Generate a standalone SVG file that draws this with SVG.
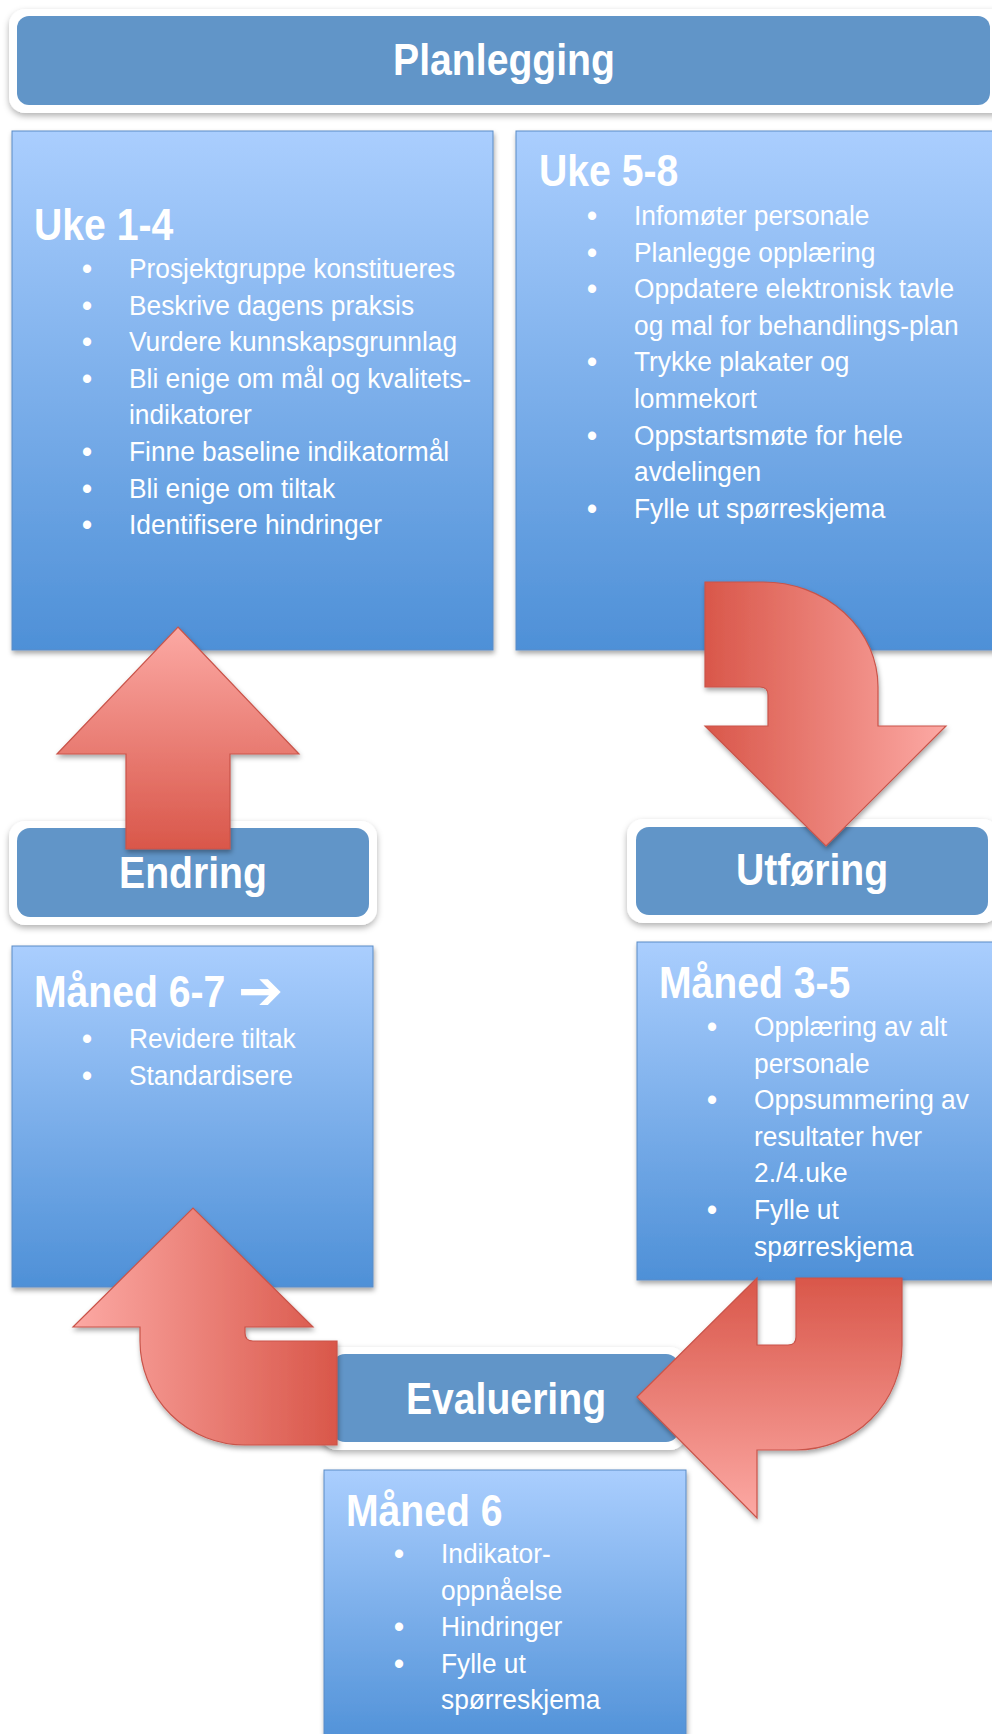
<svg xmlns="http://www.w3.org/2000/svg" width="992" height="1734" viewBox="0 0 992 1734">
<defs>
<style>
.box{fill:url(#boxg);stroke:#5a8cc6;stroke-width:1;filter:url(#sh)}
.outer{fill:#ffffff;filter:url(#sh2)}
.band{fill:#6195c8}
.arrow{stroke:#c9544a;stroke-width:1.2;filter:url(#sh)}
.hd{font-family:"Liberation Sans",Arial,sans-serif;font-weight:bold;font-size:45px;fill:#ffffff}
.bt{font-family:"Liberation Sans",Arial,sans-serif;font-weight:bold;font-size:45px;fill:#ffffff;text-anchor:middle}
.tx{font-family:"Liberation Sans",Arial,sans-serif;font-size:28px;fill:#ffffff}
.bu{font-family:"Liberation Sans",Arial,sans-serif;font-size:32px;fill:#ffffff;text-anchor:middle}
.ar{font-family:"DejaVu Sans",sans-serif;font-weight:bold;font-size:54px;fill:#ffffff}
</style>
<linearGradient id="boxg" x1="0" y1="0" x2="0" y2="1">
<stop offset="0" stop-color="#aacefe"/>
<stop offset="1" stop-color="#4e90d7"/>
</linearGradient>
<linearGradient id="gLR" x1="0" y1="0" x2="1" y2="0">
<stop offset="0" stop-color="#d9574a"/>
<stop offset="1" stop-color="#fca9a4"/>
</linearGradient>
<linearGradient id="gRL" x1="1" y1="0" x2="0" y2="0">
<stop offset="0" stop-color="#d9574a"/>
<stop offset="1" stop-color="#fca9a4"/>
</linearGradient>
<linearGradient id="gBT" x1="0" y1="1" x2="0" y2="0">
<stop offset="0" stop-color="#d9574a"/>
<stop offset="1" stop-color="#fca9a4"/>
</linearGradient>
<linearGradient id="gTB" x1="0" y1="0" x2="0" y2="1">
<stop offset="0" stop-color="#d9574a"/>
<stop offset="1" stop-color="#fca9a4"/>
</linearGradient>
<filter id="sh" x="-10%" y="-10%" width="125%" height="125%">
<feDropShadow dx="1" dy="3" stdDeviation="2.5" flood-color="#000" flood-opacity="0.35"/>
</filter>
<filter id="sh2" x="-10%" y="-20%" width="125%" height="150%">
<feDropShadow dx="0" dy="3" stdDeviation="3" flood-color="#000" flood-opacity="0.3"/>
</filter>
</defs>
<rect width="992" height="1734" fill="#ffffff"/>

<g id="planlegging">
<rect class="outer" x="9" y="9" width="1000" height="104" rx="16"/>
<rect class="band" x="17" y="16" width="973" height="89" rx="12"/>
<text class="bt" transform="translate(504,75) scale(0.87,1)">Planlegging</text>
</g>

<g id="uke1-4">
<rect class="box" x="12" y="131" width="481" height="519"/>
<text class="hd" transform="translate(34,240) scale(0.87,1)">Uke 1-4</text>
<g transform="translate(129,0) scale(0.94,1)">
<text class="bu" x="-44.7" y="279">•</text><text class="tx" x="0" y="278">Prosjektgruppe konstitueres</text>
<text class="bu" x="-44.7" y="315.6">•</text><text class="tx" x="0" y="314.6">Beskrive dagens praksis</text>
<text class="bu" x="-44.7" y="352.2">•</text><text class="tx" x="0" y="351.2">Vurdere kunnskapsgrunnlag</text>
<text class="bu" x="-44.7" y="388.8">•</text><text class="tx" x="0" y="387.8">Bli enige om mål og kvalitets-</text>
<text class="tx" x="0" y="424.4">indikatorer</text>
<text class="bu" x="-44.7" y="462">•</text><text class="tx" x="0" y="461">Finne baseline indikatormål</text>
<text class="bu" x="-44.7" y="498.6">•</text><text class="tx" x="0" y="497.6">Bli enige om tiltak</text>
<text class="bu" x="-44.7" y="535.2">•</text><text class="tx" x="0" y="534.2">Identifisere hindringer</text>
</g>
</g>

<g id="uke5-8">
<rect class="box" x="516" y="131" width="490" height="519"/>
<text class="hd" transform="translate(539,186) scale(0.87,1)">Uke 5-8</text>
<g transform="translate(634,0) scale(0.94,1)">
<text class="bu" x="-44.7" y="226">•</text><text class="tx" x="0" y="225">Infomøter personale</text>
<text class="bu" x="-44.7" y="262.6">•</text><text class="tx" x="0" y="261.6">Planlegge opplæring</text>
<text class="bu" x="-44.7" y="299.2">•</text><text class="tx" x="0" y="298.2">Oppdatere elektronisk tavle</text>
<text class="tx" x="0" y="334.8">og mal for behandlings-plan</text>
<text class="bu" x="-44.7" y="372.4">•</text><text class="tx" x="0" y="371.4">Trykke plakater og</text>
<text class="tx" x="0" y="408">lommekort</text>
<text class="bu" x="-44.7" y="445.6">•</text><text class="tx" x="0" y="444.6">Oppstartsmøte for hele</text>
<text class="tx" x="0" y="481.2">avdelingen</text>
<text class="bu" x="-44.7" y="518.8">•</text><text class="tx" x="0" y="517.8">Fylle ut spørreskjema</text>
</g>
</g>

<g id="endring">
<rect class="outer" x="9" y="821" width="368" height="104" rx="16"/>
<rect class="band" x="17" y="828" width="352" height="89" rx="13"/>
<text class="bt" transform="translate(193,888) scale(0.87,1)">Endring</text>
</g>

<g id="utforing">
<rect class="outer" x="627" y="819" width="372" height="104" rx="16"/>
<rect class="band" x="636" y="827" width="352" height="88" rx="13"/>
<text class="bt" transform="translate(812,885) scale(0.87,1)">Utføring</text>
</g>

<g id="maned6-7">
<rect class="box" x="12" y="946" width="361" height="341"/>
<text class="hd" transform="translate(34,1007) scale(0.87,1)">Måned 6-7</text>
<text class="ar" x="238" y="1009">➔</text>
<g transform="translate(129,0) scale(0.94,1)">
<text class="bu" x="-44.7" y="1049">•</text><text class="tx" x="0" y="1048">Revidere tiltak</text>
<text class="bu" x="-44.7" y="1085.6">•</text><text class="tx" x="0" y="1084.6">Standardisere</text>
</g>
</g>

<g id="maned3-5">
<rect class="box" x="637" y="942" width="370" height="338"/>
<text class="hd" transform="translate(659,998) scale(0.87,1)">Måned 3-5</text>
<g transform="translate(754,0) scale(0.94,1)">
<text class="bu" x="-44.7" y="1037">•</text><text class="tx" x="0" y="1036">Opplæring av alt</text>
<text class="tx" x="0" y="1072.6">personale</text>
<text class="bu" x="-44.7" y="1110.2">•</text><text class="tx" x="0" y="1109.2">Oppsummering av</text>
<text class="tx" x="0" y="1145.8">resultater hver</text>
<text class="tx" x="0" y="1182.4">2./4.uke</text>
<text class="bu" x="-44.7" y="1220">•</text><text class="tx" x="0" y="1219">Fylle ut</text>
<text class="tx" x="0" y="1255.6">spørreskjema</text>
</g>
</g>

<g id="evaluering">
<rect class="outer" x="321" y="1347" width="365" height="103" rx="16"/>
<rect class="band" x="332" y="1354" width="347" height="88" rx="13"/>
<text class="bt" transform="translate(506,1414) scale(0.87,1)">Evaluering</text>
</g>

<g id="maned6">
<rect class="box" x="324" y="1470" width="362" height="280"/>
<text class="hd" transform="translate(346,1526) scale(0.87,1)">Måned 6</text>
<g transform="translate(441,0) scale(0.94,1)">
<text class="bu" x="-44.7" y="1564">•</text><text class="tx" x="0" y="1563">Indikator-</text>
<text class="tx" x="0" y="1599.6">oppnåelse</text>
<text class="bu" x="-44.7" y="1637.2">•</text><text class="tx" x="0" y="1636.2">Hindringer</text>
<text class="bu" x="-44.7" y="1673.8">•</text><text class="tx" x="0" y="1672.8">Fylle ut</text>
<text class="tx" x="0" y="1709.4">spørreskjema</text>
</g>
</g>

<g id="connectors">
<path class="arrow" fill="url(#gLR)" d="M705,582 L763,582 A115,105 0 0 1 878,687 L878,726 L946,726 L826,846 L705,726 L768,726 L768,695 Q768,687 760,687 L705,687 Z"/>
<path class="arrow" fill="url(#gBT)" d="M178,627 L299,754 L230,754 L230,849 L126,849 L126,754 L57,754 Z"/>
<path class="arrow" fill="url(#gTB)" d="M796,1278 L902,1278 L902,1345 A106,105 0 0 1 796,1450 L757,1450 L757,1518 L637,1397 L757,1278 L757,1345 L788,1345 Q796,1345 796,1337 Z"/>
<path class="arrow" fill="url(#gRL)" d="M337,1341 L253,1341 Q245,1341 245,1333 L245,1327 L313,1327 L193,1208 L73,1327 L140,1327 L140,1341 A105,104 0 0 0 245,1445 L337,1445 Z"/>
</g>
</svg>
